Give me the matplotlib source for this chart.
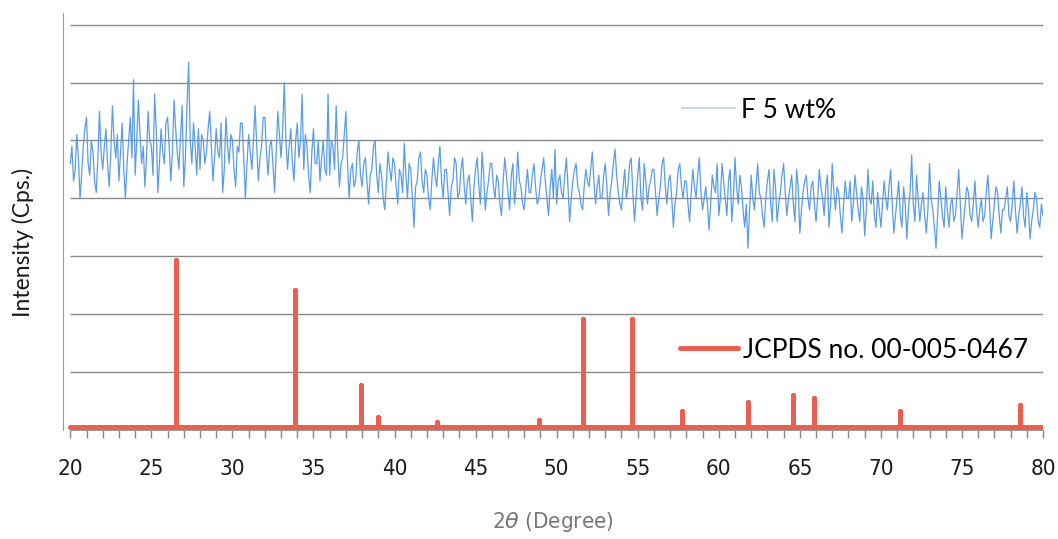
import numpy as np
import matplotlib
matplotlib.use('Agg')
import matplotlib.pyplot as plt
from matplotlib import font_manager

# --- data ---
# F 5 wt% pattern, 20..80 deg, step 0.1 deg (one row = 2 deg)
f5_start = 20.0
f5_step = 0.1
f5_intensity = [
    4.6, 4.9, 4.3, 4.5, 5.1, 4.7, 4.0, 4.4, 4.9, 5.2, 5.4, 4.6, 4.4, 5.0, 4.8, 4.3, 4.1, 4.7, 5.5, 4.8,   # 20
    4.5, 4.9, 5.2, 4.6, 4.2, 4.8, 5.6, 5.0, 4.7, 5.1, 4.3, 4.8, 5.3, 4.5, 4.0, 4.6, 5.0, 5.4, 4.7, 6.05,  # 22
    4.4, 5.0, 5.7, 5.1, 4.6, 4.9, 4.2, 4.7, 5.5, 5.0, 4.9, 4.4, 5.8, 5.2, 4.1, 4.6, 5.2, 4.8, 4.6, 5.3,   # 24
    5.4, 4.9, 4.3, 4.8, 5.7, 5.2, 4.8, 4.5, 5.1, 5.6, 4.2, 4.7, 5.6, 6.35, 5.0, 4.6, 5.3, 4.9, 4.4, 5.2,  # 26
    4.5, 5.1, 5.0, 4.6, 4.8, 5.2, 5.5, 4.9, 4.3, 4.7, 5.2, 4.8, 4.7, 5.3, 4.1, 4.5, 5.4, 4.9, 4.6, 5.1,   # 28
    5.0, 4.5, 4.2, 4.9, 4.8, 5.3, 5.3, 4.7, 4.0, 4.6, 5.1, 4.8, 4.5, 5.0, 5.6, 4.9, 4.3, 4.7, 4.9, 5.4,   # 30
    5.4, 4.8, 4.4, 4.9, 5.0, 4.6, 4.1, 4.8, 5.5, 5.1, 4.7, 5.2, 6.0, 5.0, 4.5, 4.9, 5.2, 4.6, 4.3, 5.0,   # 32
    5.3, 4.7, 5.0, 5.8, 4.5, 5.1, 4.9, 4.4, 4.1, 4.8, 5.2, 4.6, 4.6, 5.0, 4.3, 4.7, 5.0, 4.5, 4.4, 5.8,   # 34
    4.4, 5.0, 4.9, 4.5, 5.6, 4.8, 4.2, 4.6, 4.7, 5.1, 5.5, 4.6, 4.0, 4.5, 4.6, 4.2, 4.3, 4.8, 5.0, 4.4,   # 36
    4.2, 4.6, 4.7, 4.3, 3.9, 4.4, 4.5, 4.9, 5.0, 4.4, 4.1, 4.6, 4.4, 4.0, 3.8, 4.3, 4.8, 4.5, 4.3, 4.7,   # 38
    4.6, 4.2, 3.9, 4.5, 4.4, 4.1, 4.95, 4.4, 4.0, 4.6, 4.5, 4.0, 3.5, 4.2, 4.3, 4.7, 4.8, 4.3, 4.1, 4.5,  # 40
    4.4, 4.0, 3.8, 4.3, 4.7, 4.4, 4.2, 4.6, 4.9, 4.3, 4.0, 4.5, 4.5, 4.1, 3.7, 4.2, 4.3, 4.7, 4.6, 4.0,   # 42
    4.1, 4.5, 4.7, 4.2, 3.9, 4.3, 4.4, 4.0, 3.6, 4.2, 4.5, 4.7, 4.2, 3.9, 4.8, 4.4, 3.8, 4.1, 4.3, 4.6,   # 44
    4.6, 4.2, 4.0, 4.4, 4.3, 3.9, 3.7, 4.3, 4.7, 4.4, 4.1, 3.8, 4.4, 4.6, 3.9, 4.2, 4.8, 4.3, 4.2, 3.9,   # 46
    3.8, 4.2, 4.5, 4.1, 4.1, 4.4, 4.6, 4.2, 3.9, 4.0, 4.3, 4.5, 4.7, 4.3, 4.0, 3.7, 4.2, 4.5, 4.0, 4.85,  # 48
    3.9, 4.3, 4.4, 4.1, 4.0, 4.4, 4.7, 4.2, 3.6, 4.0, 4.3, 4.5, 4.6, 4.2, 4.1, 3.9, 3.8, 4.2, 4.5, 4.3,   # 50
    4.2, 4.5, 4.8, 4.3, 3.9, 4.2, 4.4, 4.0, 4.0, 4.4, 4.6, 4.2, 3.7, 4.1, 4.3, 4.6, 4.85, 4.4, 4.1, 3.9,  # 52
    3.8, 4.2, 4.5, 4.0, 4.2, 4.6, 4.7, 4.1, 3.6, 4.0, 4.4, 4.7, 4.0, 3.8, 4.6, 4.3, 3.9, 4.2, 4.3, 4.5,   # 54
    4.5, 4.1, 3.7, 4.0, 4.2, 4.6, 4.7, 4.2, 3.9, 4.3, 4.4, 4.0, 3.5, 3.9, 4.1, 4.5, 4.6, 4.2, 4.0, 4.3,   # 56
    4.3, 3.9, 3.6, 4.1, 4.5, 4.2, 4.0, 4.4, 4.7, 4.1, 3.8, 4.0, 4.2, 3.9, 3.45, 3.9, 4.4, 4.2, 4.1, 4.6,  # 58
    3.7, 4.0, 4.6, 4.3, 4.0, 3.7, 4.3, 4.5, 3.6, 4.0, 4.7, 4.2, 3.9, 4.4, 4.2, 3.8, 3.5, 3.9, 3.14, 3.8,  # 60
    4.4, 4.0, 3.8, 4.2, 4.6, 4.1, 4.0, 3.7, 3.5, 4.0, 4.3, 4.5, 3.9, 3.6, 4.5, 4.2, 3.6, 3.9, 4.1, 4.4,   # 62
    4.6, 4.1, 3.7, 4.0, 4.2, 4.4, 3.9, 3.6, 4.5, 4.2, 3.4, 3.8, 4.1, 4.3, 4.4, 4.0, 3.8, 4.2, 4.3, 3.9,   # 64
    3.6, 4.0, 4.5, 4.2, 4.0, 3.7, 4.2, 4.4, 3.5, 3.9, 4.6, 4.1, 3.8, 4.2, 4.1, 3.7, 3.4, 3.9, 4.3, 4.0,   # 66
    4.0, 4.3, 3.6, 3.9, 4.4, 4.1, 3.8, 3.6, 4.2, 4.0, 3.35, 3.8, 4.5, 4.0, 3.9, 4.3, 3.7, 3.5, 4.1, 3.8,  # 68
    3.5, 3.9, 4.3, 4.0, 3.8, 4.2, 4.5, 3.9, 3.4, 3.7, 4.0, 4.3, 3.7, 3.5, 4.2, 3.9, 3.3, 3.8, 4.1, 4.75,  # 70
    3.9, 3.6, 4.4, 4.0, 3.6, 3.9, 4.1, 3.7, 3.4, 3.8, 4.6, 4.0, 3.8, 3.5, 3.14, 3.7, 4.3, 4.0, 3.7, 3.5,  # 72
    4.2, 3.8, 3.5, 3.9, 4.0, 3.6, 3.7, 4.1, 4.5, 3.9, 3.3, 3.6, 3.9, 4.2, 4.1, 3.7, 3.6, 3.9, 4.3, 3.8,   # 74
    3.5, 3.8, 4.0, 3.6, 3.7, 4.1, 4.4, 3.9, 3.3, 3.6, 3.9, 4.2, 4.1, 3.7, 3.4, 3.8, 3.8, 4.0, 4.2, 3.7,   # 76
    3.6, 3.9, 4.3, 3.8, 3.4, 3.7, 3.9, 4.2, 3.7, 3.5, 4.1, 3.8, 3.3, 3.6, 3.8, 4.1, 4.0, 3.6, 3.5, 3.9,   # 78
    3.7,
]

# JCPDS reference sticks
jcpds_pos = [26.55, 33.87, 37.94, 39.0, 42.6, 48.9, 51.6, 54.65,
             57.75, 61.82, 64.6, 65.89, 71.17, 78.57]
jcpds_int = [2.94, 2.42, 0.77, 0.22, 0.14, 0.17, 1.91, 1.91,
             0.33, 0.48, 0.6, 0.55, 0.33, 0.44]
jcpds_base = 0.05

x_ticks = [20, 25, 30, 35, 40, 45, 50, 55, 60, 65, 70, 75, 80]
grid_levels = [1, 2, 3, 4, 5, 6, 7]

# fonts
names = {f.name for f in font_manager.fontManager.ttflist}
plt.rcParams['font.family'] = ['Lato', 'DejaVu Sans']
if 'Liberation Sans Narrow' in names:
    tick_font = dict(family='Liberation Sans Narrow')
else:
    tick_font = dict(family='DejaVu Sans', stretch='condensed')

f5_x = f5_start + f5_step * np.arange(len(f5_intensity))

# stick pattern as one line
stick_x = [20.0]
stick_y = [jcpds_base]
for p, h in zip(jcpds_pos, jcpds_int):
    stick_x += [p, p, p]
    stick_y += [jcpds_base, h, jcpds_base]
stick_x.append(80.0)
stick_y.append(jcpds_base)

fig = plt.figure(figsize=(10.58, 5.39), dpi=100)
ax = fig.add_axes([63 / 1058, 1 - 430 / 539, (1043 - 63) / 1058, (430 - 13) / 539])

ax.hlines(grid_levels, 20, 80, color='#8a8a8a', lw=1.0, zorder=1)

blue, = ax.plot(f5_x, f5_intensity, color='#5b9de2', lw=0.9, zorder=3)
red, = ax.plot(stick_x, stick_y, color='#e8604f', lw=3.6,
               solid_joinstyle='round', solid_capstyle='round', zorder=4)

ax.set_xlim(19.55, 80)
ax.set_ylim(0, 7.2)

for s in ['top', 'right']:
    ax.spines[s].set_visible(False)
ax.spines['left'].set_color('#9a9a9a')
ax.spines['bottom'].set_color('#9a9a9a')
ax.spines['bottom'].set_bounds(20, 80)
ax.set_yticks([])

ax.set_xticks(x_ticks)
ax.set_xticks(range(20, 81), minor=True)
ax.tick_params(axis='x', which='both', direction='out', length=6, color='#888888',
               width=1.0, pad=15, labelsize=16, labelcolor='#1a1a1a')
for lab in ax.get_xticklabels():
    lab.set_fontfamily(tick_font['family'])
    if 'stretch' in tick_font:
        lab.set_fontstretch(tick_font['stretch'])

ax.set_ylabel('Intensity (Cps.)', fontsize=16.5, color='#1a1a1a')
ax.yaxis.set_label_coords(-0.030, 0.45)
xl = ax.set_xlabel(r'2$\theta$ (Degree)', fontsize=16, color='#777777', labelpad=22)
xl.set_fontfamily(tick_font['family'])
if 'stretch' in tick_font:
    xl.set_fontstretch(tick_font['stretch'])

leg1 = fig.legend([blue], ['F 5 wt%'], loc='center left',
                  bbox_to_anchor=(682 / 1058, 1 - 110 / 539), frameon=False,
                  fontsize=19, handlelength=2.0, handletextpad=0.25, borderpad=0,
                  borderaxespad=0)
leg1.get_lines()[0].set_color('#b9d1ef')
leg1.get_lines()[0].set_linewidth(1.2)
leg2 = fig.legend([red], ['JCPDS no. 00-005-0467'], loc='center left',
                  bbox_to_anchor=(680 / 1058, 1 - 350 / 539), frameon=False,
                  fontsize=19, handlelength=2.2, handletextpad=0.2, borderpad=0,
                  borderaxespad=0)

fig.savefig('out.png', dpi=100)
